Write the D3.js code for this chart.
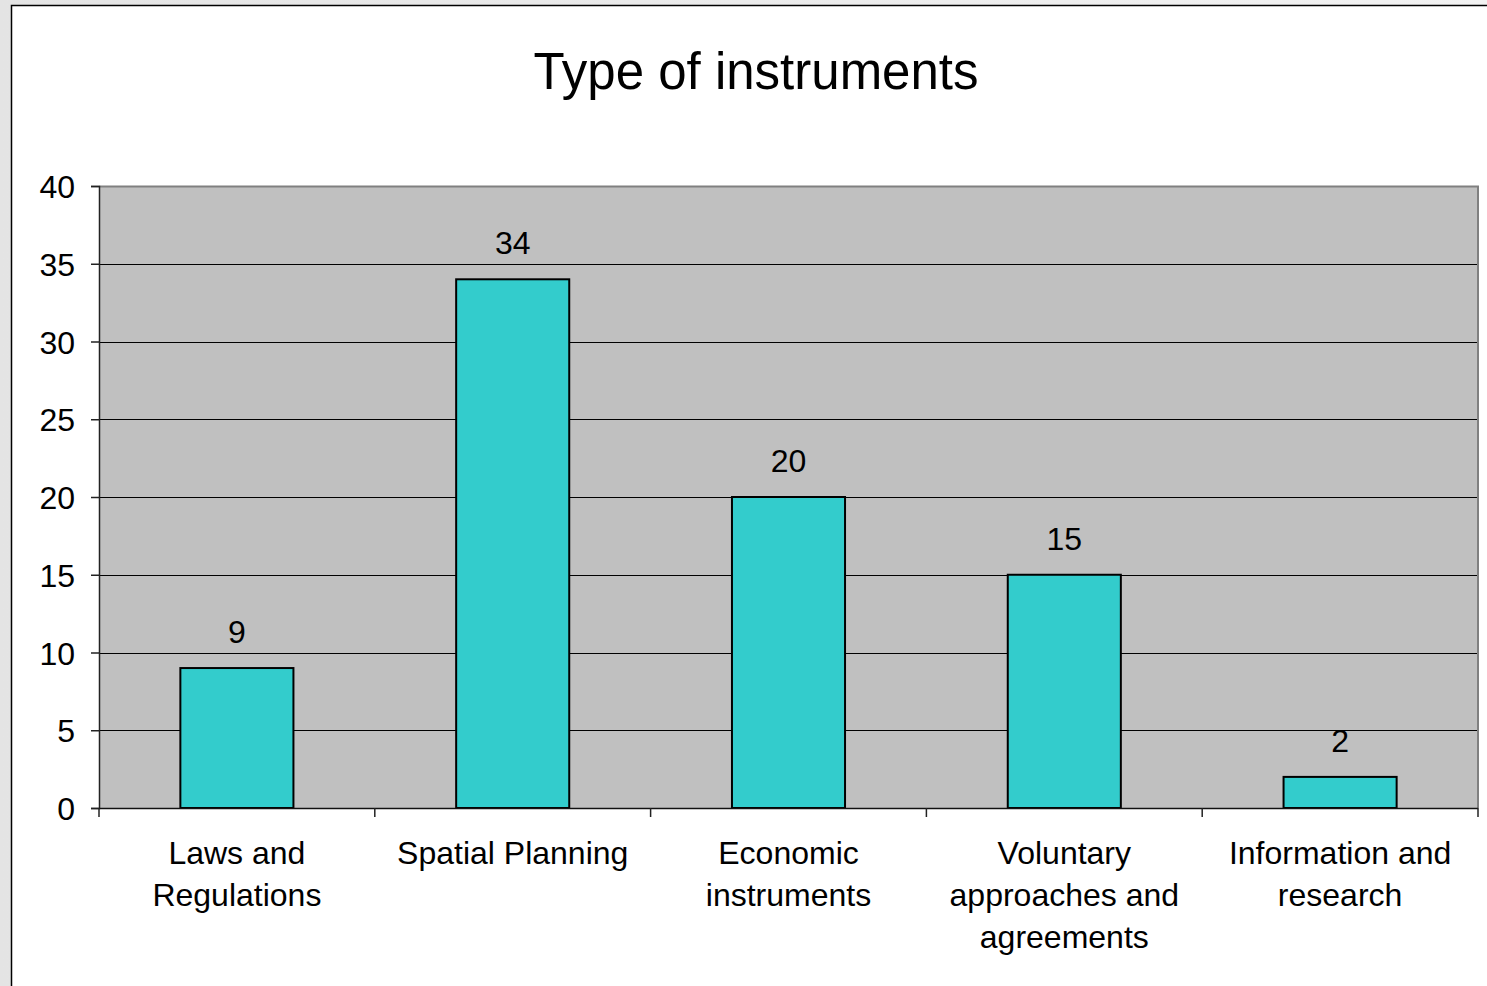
<!DOCTYPE html>
<html><head><meta charset="utf-8">
<script src="https://cdn.jsdelivr.net/npm/d3@7"></script>
<style>
html,body{margin:0;padding:0;width:1487px;height:986px;overflow:hidden;background:#ececec;}
svg{display:block;font-family:"Liberation Sans",Arial,sans-serif;}
</style></head>
<body>
<svg id="chart" width="1487" height="986"></svg>
<script>
const categories = [["Laws and","Regulations"],["Spatial Planning"],["Economic","instruments"],["Voluntary","approaches and","agreements"],["Information and","research"]];
const values = [9, 34, 20, 15, 2];
const yTicks = [0, 5, 10, 15, 20, 25, 30, 35, 40];
const title = "Type of instruments";

const svg = d3.select("#chart");
const defs = svg.append("defs");
const g1 = defs.append("linearGradient").attr("id","bgL").attr("x1","0").attr("x2","1").attr("y1","0").attr("y2","0");
g1.append("stop").attr("offset","0").attr("stop-color","#e4e4e4");
g1.append("stop").attr("offset","1").attr("stop-color","#f2f2f2");
svg.append("rect").attr("x",0).attr("y",0).attr("width",1487).attr("height",986).attr("fill","url(#bgL)");

// chart area
svg.append("rect").attr("x",11.5).attr("y",5.5).attr("width",1500).attr("height",1000)
  .attr("fill","#fff").attr("stroke","#000").attr("stroke-width",1.5);

const pL = 99, pR = 1478, pT = 186, pB = 808;
const x = d3.scaleBand().domain(d3.range(values.length)).range([pL, pR]).padding(0);
const y = d3.scaleLinear().domain([0, 40]).range([pB, pT]);

// plot background
svg.append("rect").attr("x",pL).attr("y",pT).attr("width",pR-pL).attr("height",pB-pT).attr("fill","#c0c0c0");

// gridlines
svg.append("g").selectAll("line").data(yTicks.filter(d=>d>0 && d<40)).join("line")
  .attr("x1",pL).attr("x2",pR).attr("y1",d=>Math.round(y(d))+0.5).attr("y2",d=>Math.round(y(d))+0.5)
  .attr("stroke","#000").attr("stroke-width",1);
// plot border top/right
svg.append("path").attr("d",`M${pL},${pT+0.5}H${pR}V${pB}`).attr("fill","none").attr("stroke","#808080").attr("stroke-width",2);

// bars
const barW = x.bandwidth()*0.41;
svg.append("g").selectAll("rect").data(values).join("rect")
  .attr("x",(d,i)=>x(i)+x.bandwidth()/2-barW/2)
  .attr("y",d=>y(d))
  .attr("width",barW)
  .attr("height",d=>y(0)-y(d))
  .attr("fill","#33cccc").attr("stroke","#000").attr("stroke-width",2);

// value labels
svg.append("g").selectAll("text").data(values).join("text")
  .attr("x",(d,i)=>x(i)+x.bandwidth()/2)
  .attr("y",d=>y(d)-25)
  .attr("text-anchor","middle").attr("font-size",32).attr("fill","#000")
  .text(d=>d);

// y axis
const yAxis = d3.axisLeft(y).tickValues(yTicks).tickSize(8).tickPadding(16);
const ya = svg.append("g").attr("transform",`translate(${pL},0)`).call(yAxis);
ya.select(".domain").attr("stroke","#222").attr("stroke-width",1.5);
ya.selectAll(".tick line").attr("stroke","#222").attr("stroke-width",1.5);
ya.selectAll(".tick text").attr("font-size",32).attr("fill","#000").attr("font-family","Liberation Sans, Arial, sans-serif").attr("dy","0.36em");

// x axis
const xEdges = d3.range(values.length+1).map(i=> i<values.length ? x(i) : pR);
const xa = svg.append("g");
xa.append("line").attr("x1",pL).attr("x2",pR).attr("y1",pB+0.5).attr("y2",pB+0.5).attr("stroke","#111").attr("stroke-width",1.5);
xa.selectAll("line.tk").data(xEdges).join("line").attr("class","tk")
  .attr("x1",d=>d).attr("x2",d=>d).attr("y1",pB).attr("y2",pB+9)
  .attr("stroke","#222").attr("stroke-width",1.5);

const xl = svg.append("g").selectAll("text").data(categories).join("text")
  .attr("text-anchor","middle").attr("font-size",32).attr("fill","#000")
  .attr("transform",(d,i)=>`translate(${x(i)+x.bandwidth()/2},864)`);
xl.selectAll("tspan").data(d=>d).join("tspan")
  .attr("x",0).attr("y",(d,i)=>i*42).text(d=>d);

// title
svg.append("text").attr("x",756).attr("y",89).attr("text-anchor","middle")
  .attr("font-size",51).attr("fill","#000").text(title);
</script>
</body></html>
